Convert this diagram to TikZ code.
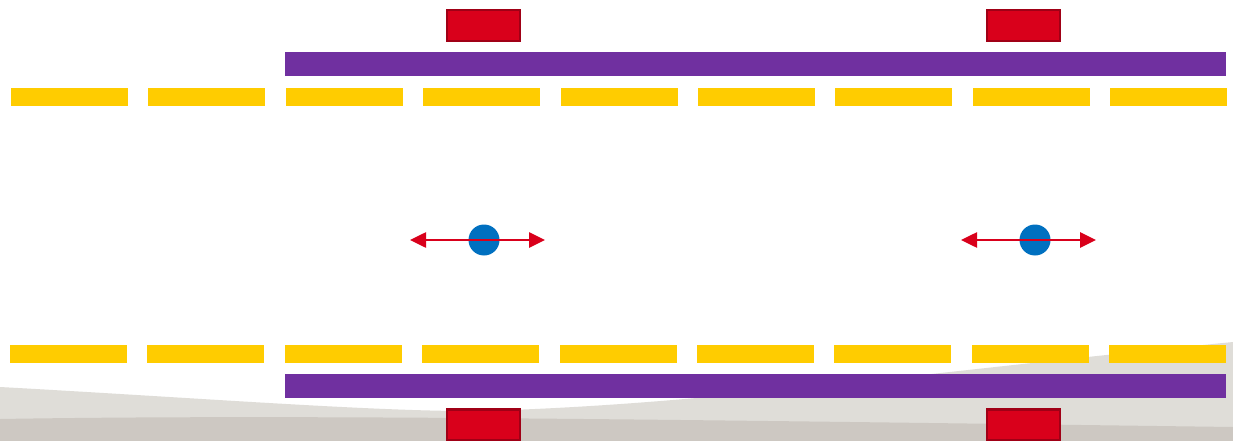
\documentclass[tikz,border=0pt]{standalone}
\usetikzlibrary{arrows.meta}
\definecolor{laneyellow}{HTML}{FFCC00}
\definecolor{railpurple}{HTML}{7030A0}
\definecolor{boxred}{HTML}{D9001B}
\definecolor{boxredborder}{HTML}{A00016}
\definecolor{dotblue}{HTML}{0070C0}
\definecolor{groundlight}{HTML}{DFDDD8}
\definecolor{grounddark}{HTML}{CDC8C2}
\tikzset{
  lane/.style={fill=laneyellow, draw=none, minimum width=117pt, minimum height=18pt, inner sep=0pt, outer sep=0pt, anchor=north west},
  rail/.style={fill=railpurple, draw=none, minimum width=941pt, minimum height=24pt, inner sep=0pt, outer sep=0pt, anchor=north west},
  redbox/.style={fill=boxred, draw=boxredborder, line width=2.4pt, minimum width=73pt, minimum height=31pt, inner sep=0pt, outer sep=0pt, anchor=north west},
  bluedot/.style={circle, fill=dotblue, draw=none, minimum size=31pt, inner sep=0pt},
  motion/.style={draw=boxred, line width=2.6pt, {Triangle[length=16pt,width=15pt]}-{Triangle[length=16pt,width=15pt]}}
}
\begin{document}
\begin{tikzpicture}[x=1pt,y=-1pt]
\useasboundingbox (0,0) rectangle (1233,441);
\clip (0,0) rectangle (1233,441);
\fill[white] (0,0) rectangle (1233,441);
% ground
\fill[groundlight] (0,387) .. controls (200,398) and (380,412) .. (480,411)
  .. controls (700,405) and (900,375) .. (1233,342) -- (1233,441) -- (0,441) -- cycle;
\fill[grounddark] (0,419) .. controls (300,414) and (700,420) .. (1233,427) -- (1233,441) -- (0,441) -- cycle;
% lane markings
\foreach \i in {0,...,8} {
  \node[lane] (ty\i) at ({11+137.4*\i},88) {};
  \node[lane] (by\i) at ({10+137.4*\i},345) {};
}
% rails
\node[rail] (tr) at (285,52) {};
\node[rail] (br) at (285,374) {};
% red boxes
\node[redbox] (trb1) at (447,10) {};
\node[redbox] (trb2) at (987,10) {};
\node[redbox] (brb1) at (447,409.5) {};
\node[redbox] (brb2) at (987,409.5) {};
% blue dots
\node[bluedot] (d1) at (484,240) {};
\node[bluedot] (d2) at (1035,240) {};
% motion arrows
\coordinate (a1l) at (410,240);
\coordinate (a1r) at (545,240);
\coordinate (a2l) at (961,240);
\coordinate (a2r) at (1096,240);
\draw[motion] (a1l) -- (a1r);
\draw[motion] (a2l) -- (a2r);
\end{tikzpicture}
\end{document}
